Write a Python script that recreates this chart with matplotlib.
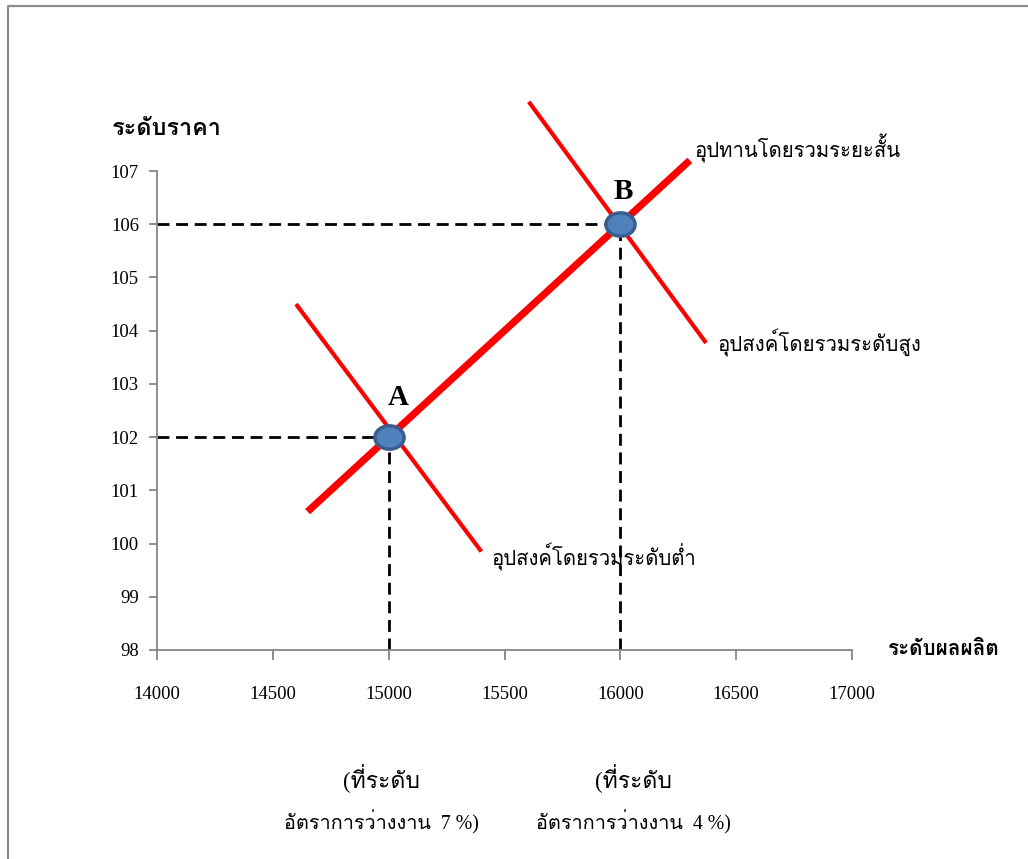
import matplotlib
matplotlib.use("Agg")
import matplotlib.pyplot as plt
from matplotlib.lines import Line2D
from matplotlib.path import Path
from matplotlib.markers import MarkerStyle
from matplotlib.transforms import Affine2D

# ---- data ----
x_ticks = [14000, 14500, 15000, 15500, 16000, 16500, 17000]
y_ticks = [98, 99, 100, 101, 102, 103, 104, 105, 106, 107]

# short-run aggregate supply (end points)
supply_x = [14650, 16300]
supply_y = [100.6, 107.2]

# low aggregate demand
demand_low_x = [14600, 15400]
demand_low_y = [104.5, 99.85]

# high aggregate demand
demand_high_x = [15605, 16370]
demand_high_y = [108.3, 103.77]

# equilibrium points
eq_labels = ["A", "B"]
eq_x = [15000, 16000]
eq_y = [102, 106]
unemployment = [7, 4]

y_title = "ระดับราคา"
x_title = "ระดับผลผลิต"
supply_label = "อุปทานโดยรวมระยะสั้น"
demand_high_label = "อุปสงค์โดยรวมระดับสูง"
demand_low_label = "อุปสงค์โดยรวมระดับต่ำ"

# Latin glyphs from the serif face, Thai glyphs from Loma
THAI = ["Liberation Serif", "Loma", "DejaVu Sans"]
LATIN = ["Liberation Serif", "DejaVu Serif"]

W, H = 1028, 859
fig = plt.figure(figsize=(W / 100, H / 100), dpi=100)
fig.patch.set_facecolor("white")

# page frame (top and left edges)
fx = 8 / W
fy = 1 - 6 / H
fig.add_artist(Line2D([fx, fx, 1.0], [0.0, fy, fy], transform=fig.transFigure,
                      color="#8c8c8c", lw=1.6))

ax = fig.add_axes([157 / W, 1 - 650 / H, (852 - 157) / W, (650 - 171) / H])
ax.set_xlim(14000, 17000)
ax.set_ylim(98, 107)
for s in ["top", "right"]:
    ax.spines[s].set_visible(False)
axis_col = "#868686"
for s in ["left", "bottom"]:
    ax.spines[s].set_color(axis_col)
    ax.spines[s].set_linewidth(1.3)
ax.set_xticks(x_ticks)
ax.set_yticks(y_ticks)
ax.set_xticklabels([str(v) for v in x_ticks])
ax.set_yticklabels([str(v) for v in y_ticks])
ax.tick_params(axis="x", direction="out", length=7, width=1.3, color=axis_col,
               pad=19, labelsize=13.5)
ax.tick_params(axis="y", direction="out", length=6, width=1.3, color=axis_col,
               pad=7, labelsize=13.5)
for lab in ax.get_xticklabels() + ax.get_yticklabels():
    lab.set_family(LATIN)

# guide lines to the axes
dash_kw = dict(color="black", lw=2.0, dashes=(4.3, 2.4), zorder=2)
for x0, y0 in zip(eq_x, eq_y):
    ax.plot([14000, x0], [y0, y0], **dash_kw)
    ax.plot([x0, x0], [98, y0], **dash_kw)

# curves
ax.plot(demand_low_x, demand_low_y, color="#ff0000", lw=3.0,
        solid_capstyle="butt", zorder=3, clip_on=False)
ax.plot(demand_high_x, demand_high_y, color="#ff0000", lw=3.0,
        solid_capstyle="butt", zorder=3, clip_on=False)
ax.plot(supply_x, supply_y, color="#ff0000", lw=5.2,
        solid_capstyle="butt", zorder=4, clip_on=False)

# equilibrium markers (slightly wide ellipses)
circle = Path.unit_circle()
ellipse = circle.transformed(Affine2D().scale(1.25, 1.0))
ax.plot(eq_x, eq_y, linestyle="none", marker=MarkerStyle(ellipse),
        markersize=21, markerfacecolor="#4f81bd", markeredgecolor="#3a5f8f",
        markeredgewidth=2.5, zorder=6, clip_on=False)

label_offsets = [(40, 0.75), (11, 0.62)]
for lab, x0, y0, (dx, dy) in zip(eq_labels, eq_x, eq_y, label_offsets):
    ax.text(x0 + dx, y0 + dy, lab, ha="center", va="center", fontsize=21,
            fontweight="bold", family=LATIN, zorder=7)

# curve labels
ax.text(16322, 107.43, supply_label, ha="left", va="center", fontsize=14.6,
        family=THAI, clip_on=False)
ax.text(16421, 103.77, demand_high_label, ha="left", va="center", fontsize=14.7,
        family=THAI, clip_on=False)
ax.text(15442, 99.75, demand_low_label, ha="left", va="center", fontsize=14.6,
        family=THAI, clip_on=False)

# axis titles
ax.text(-0.065, 1.086, y_title, transform=ax.transAxes, ha="left", va="center",
        fontsize=16.9, fontweight="bold", family=THAI)
ax.text(1.052, 0.0, x_title, transform=ax.transAxes, ha="left", va="center",
        fontsize=14.9, fontweight="bold", family=THAI)

# unemployment notes under the output levels
tr = ax.get_xaxis_transform()
note_x = [14967, 16055]
for nx, u in zip(note_x, unemployment):
    ax.text(nx, -0.267, "(ที่ระดับ", transform=tr, ha="center", va="center",
            fontsize=16.5, family=THAI)
    ax.text(nx, -0.359, "อัตราการว่างงาน  %d %%)" % u, transform=tr,
            ha="center", va="center", fontsize=14.3, family=THAI)

fig.savefig("out.png", dpi=100, facecolor="white")
